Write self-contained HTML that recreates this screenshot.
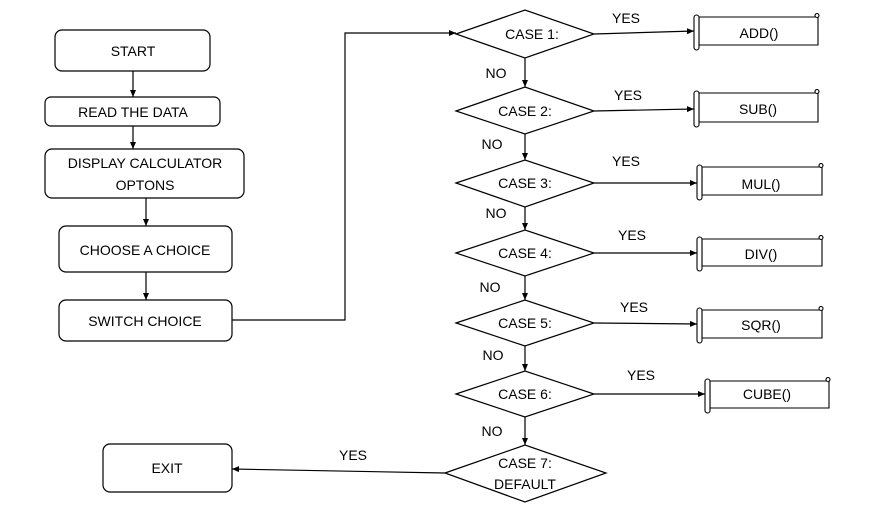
<!DOCTYPE html>
<html><head><meta charset="utf-8"><style>
html,body{margin:0;padding:0;background:#fff;}
svg{display:block;}
text{font-family:"Liberation Sans",sans-serif;font-size:14px;fill:#000;text-anchor:middle;dominant-baseline:central;}
</style></head><body>
<svg width="874" height="510" viewBox="0 0 874 510" xmlns="http://www.w3.org/2000/svg">
<defs>
<marker id="a" markerWidth="8" markerHeight="8" refX="7" refY="4" orient="auto" markerUnits="userSpaceOnUse">
<path d="M0,1 L7,4 L0,7 z" fill="#000"/></marker>
</defs>
<g fill="#fff" stroke="#000" stroke-width="1.2">
<rect x="55" y="30" width="155" height="41" rx="7"/>
<rect x="45" y="97" width="175" height="29" rx="6"/>
<rect x="45" y="149" width="199" height="49" rx="7"/>
<rect x="59" y="226" width="173" height="46" rx="7"/>
<rect x="59" y="300" width="173" height="41" rx="7"/>
<rect x="103" y="444" width="129" height="48" rx="7"/>
<polygon points="456,34 525,10 594,34 525,58"/>
<polygon points="456,111 525,87 594,111 525,134"/>
<polygon points="456,183 525,160 594,183 525,207"/>
<polygon points="456,253 525,230 594,253 525,276"/>
<polygon points="456,323 525,300 594,323 525,346"/>
<polygon points="456,394 525,371 594,394 525,417"/>
<polygon points="445,473 525,445 606,473 525,502"/>
</g>
<g stroke="#000" stroke-width="1.2" fill="none" marker-end="url(#a)">
<line x1="133" y1="71" x2="133" y2="97"/>
<line x1="133" y1="126" x2="133" y2="149"/>
<line x1="146" y1="198" x2="146" y2="226"/>
<line x1="146" y1="272" x2="146" y2="300"/>
<polyline points="232,320 345,320 345,33 456,33"/>
<line x1="525" y1="58" x2="525" y2="87"/>
<line x1="525" y1="134" x2="525" y2="160"/>
<line x1="525" y1="207" x2="525" y2="230"/>
<line x1="525" y1="276" x2="525" y2="300"/>
<line x1="525" y1="346" x2="525" y2="371"/>
<line x1="525" y1="417" x2="525" y2="445"/>
<line x1="594" y1="34" x2="694" y2="31"/>
<line x1="594" y1="111" x2="694" y2="109"/>
<line x1="594" y1="183" x2="697" y2="183"/>
<line x1="594" y1="253" x2="697" y2="253"/>
<line x1="594" y1="323" x2="697" y2="324"/>
<line x1="594" y1="394" x2="705" y2="394"/>
<line x1="445" y1="473" x2="232" y2="469"/>
</g>
<g fill="#fff" stroke="#000" stroke-width="1.1">
<g transform="translate(694,13)"><path d="M5,4 H124 V32 H5 Z"/><rect x="0" y="2" width="5" height="35" rx="2.5"/><circle cx="123" cy="2.5" r="2"/></g>
<g transform="translate(694,89)"><path d="M5,4 H124 V33 H5 Z"/><rect x="0" y="2" width="5" height="36" rx="2.5"/><circle cx="123" cy="2.5" r="2"/></g>
<g transform="translate(697,163)"><path d="M5,4 H125 V32 H5 Z"/><rect x="0" y="2" width="5" height="35" rx="2.5"/><circle cx="124" cy="2.5" r="2"/></g>
<g transform="translate(697,235)"><path d="M5,4 H125 V31 H5 Z"/><rect x="0" y="2" width="5" height="34" rx="2.5"/><circle cx="124" cy="2.5" r="2"/></g>
<g transform="translate(697,306)"><path d="M5,4 H125 V32 H5 Z"/><rect x="0" y="2" width="5" height="35" rx="2.5"/><circle cx="124" cy="2.5" r="2"/></g>
<g transform="translate(705,377)"><path d="M5,4 H124 V31 H5 Z"/><rect x="0" y="2" width="5" height="34" rx="2.5"/><circle cx="123" cy="2.5" r="2"/></g>
</g>
<text x="133" y="51">START</text>
<text x="133" y="112">READ THE DATA</text>
<text x="145" y="163">DISPLAY CALCULATOR</text>
<text x="145" y="185">OPTONS</text>
<text x="145" y="250">CHOOSE A CHOICE</text>
<text x="145" y="321">SWITCH CHOICE</text>
<text x="167" y="468">EXIT</text>
<text x="532" y="34">CASE 1:</text>
<text x="525" y="111">CASE 2:</text>
<text x="525" y="183">CASE 3:</text>
<text x="525" y="253">CASE 4:</text>
<text x="525" y="323">CASE 5:</text>
<text x="525" y="394">CASE 6:</text>
<text x="525" y="463">CASE 7:</text>
<text x="525" y="484">DEFAULT</text>
<text x="759" y="33">ADD()</text>
<text x="758" y="109">SUB()</text>
<text x="761" y="184">MUL()</text>
<text x="761" y="254">DIV()</text>
<text x="761" y="325">SQR()</text>
<text x="767" y="394">CUBE()</text>
<text x="626" y="18">YES</text>
<text x="628" y="95">YES</text>
<text x="626" y="161">YES</text>
<text x="632" y="235">YES</text>
<text x="634" y="307">YES</text>
<text x="641" y="375">YES</text>
<text x="353" y="455">YES</text>
<text x="496" y="73">NO</text>
<text x="492" y="144">NO</text>
<text x="496" y="213">NO</text>
<text x="490" y="287">NO</text>
<text x="493" y="355">NO</text>
<text x="492" y="431">NO</text>
</svg>
</body></html>
